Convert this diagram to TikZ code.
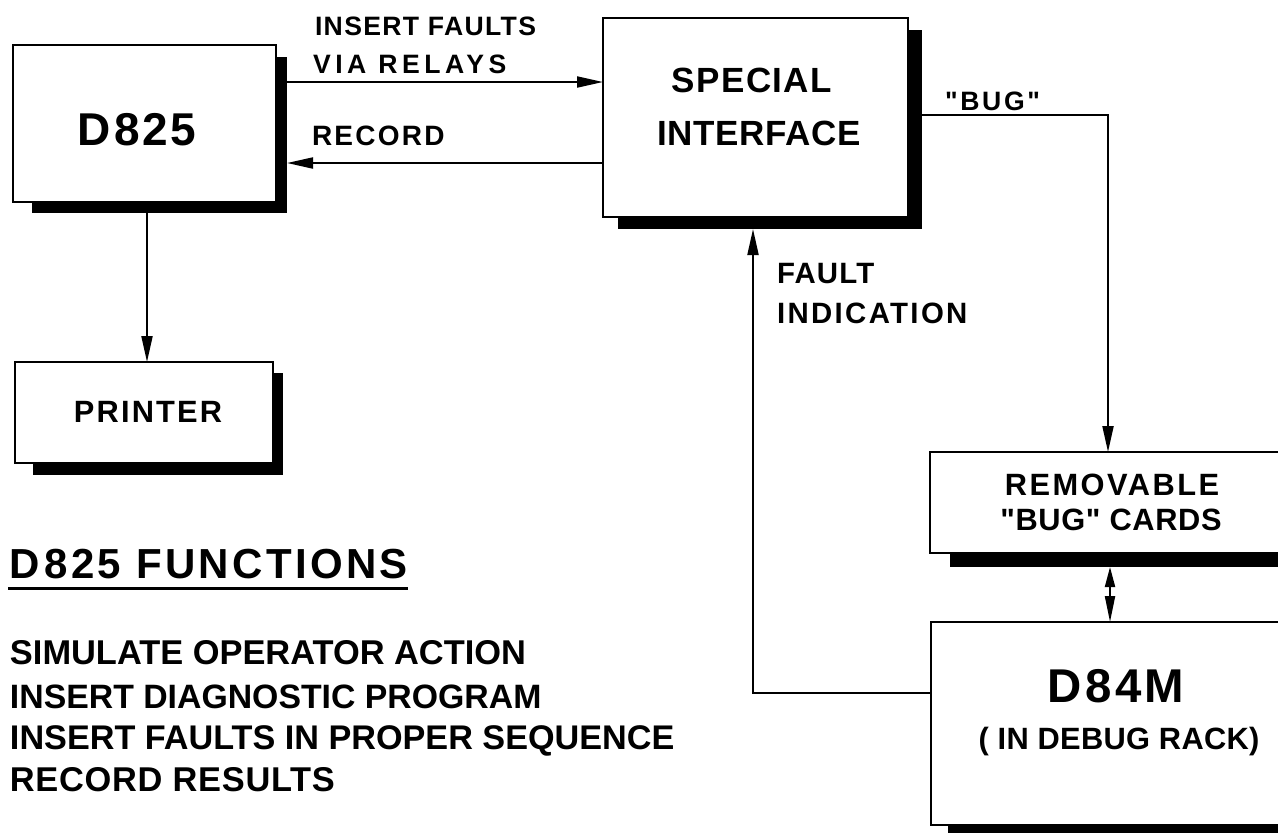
\documentclass[tikz,border=0pt]{standalone}
\usepackage{fontspec}
\setmainfont{Liberation Sans}[Ligatures=TeXOff]
\usetikzlibrary{arrows.meta,calc,fit}
\begin{document}
\begin{tikzpicture}[x=0.5pt,y=-0.5pt,
  box/.style={draw, line width=1pt, fill=white, inner sep=0, outer sep=0, rectangle},
  shade/.style={fill=black, draw=none, inner sep=0, outer sep=0, rectangle},
  conn/.style={line width=1pt, -{Triangle[length=13pt,width=5.5pt]}},
  dbl/.style={line width=1pt, {Triangle[length=10pt,width=5pt]}-{Triangle[length=13pt,width=5pt]}},
  t/.style 2 args={inner sep=0, outer sep=0, font=\fontsize{#1}{#1}\selectfont\bfseries\addfontfeatures{LetterSpace=#2}},
]
\useasboundingbox (0,0) rectangle (1278,832);
\fill[white] (0,0) rectangle (1278,832);
\clip (0,0) rectangle (1278,832);

% D825
\node[shade, fit={(32,57)(287,213)}] (d825s) {};
\node[box, fit={(13,45)(276,202)}] (d825) {};
\node[t={23}{5}, anchor=base] (d825t) at (137,145) {D\kern2pt 825};

% Printer
\node[shade, fit={(33,373)(283,475)}] (prs) {};
\node[box, fit={(15,362)(273,463)}] (pr) {};
\node[t={15.4}{7}, anchor=base] (prt) at (148,422) {PRINTER};

% Special interface
\node[shade, fit={(618,30)(922,229)}] (sis) {};
\node[box, fit={(603,18)(908,217)}] (si) {};
\node[t={17.5}{4}, anchor=base] (sit1) at (752,92) {SPECIAL};
\node[t={17.5}{2}, anchor=base] (sit2) at (759,145) {INTERFACE};

% Removable bug cards
\node[shade, fit={(950,464)(1300,567)}] (rbs) {};
\node[box, fit={(930,452)(1300,553)}] (rb) {};
\node[t={15.4}{8}, anchor=base] (rbt1) at (1112,495) {REMOVABLE};
\node[t={15.4}{2}, anchor=base] (rbt2) at (1111,530) {"BUG" CARDS};

% D84M
\node[shade, fit={(948,634)(1300,840)}] (dms) {};
\node[box, fit={(931,622)(1300,825)}] (dm) {};
\node[t={23.7}{7}, anchor=base] (dmt1) at (1116,702) {D84M};
\node[t={15.4}{1}, anchor=base] (dmt2) at (1119,749) {( IN DEBUG RACK)};

% connectors
\coordinate (yIns) at (0,82);
\coordinate (yRec) at (0,163);
\coordinate (xPr) at (147,0);
\coordinate (yBug) at (0,115);
\coordinate (xBug) at (1108,0);
\coordinate (xDbl) at (1110,0);
\coordinate (yFault) at (0,693);
\coordinate (xFault) at (753,0);
\draw[conn] (d825s.east |- yIns) -- (si.west |- yIns);
\draw[conn] (si.west |- yRec) -- (d825s.east |- yRec);
\draw[conn] (d825s.south -| xPr) -- (pr.north -| xPr);
\draw[conn] (sis.east |- yBug) -| (rb.north -| xBug);
\draw[dbl] (rbs.south -| xDbl) -- (dm.north -| xDbl);
\draw[conn] (dm.west |- yFault) -| (sis.south -| xFault);

% connector labels
\node[t={13.3}{5}, anchor=base west] (lblIns1) at (315,35) {INSERT FAULTS};
\node[t={13.3}{17}, anchor=base west] (lblIns2) at (313,73) {VIA RELAYS};
\node[t={14}{8}, anchor=base west] (lblRec) at (312,145) {RECORD};
\node[t={13.3}{10}, anchor=base west] (lblBug) at (945,110) {"BUG"};
\node[t={14.7}{4}, anchor=base west] (lblF1) at (777,283) {FAULT};
\node[t={14.7}{8}, anchor=base west] (lblF2) at (777,323) {INDICATION};

% functions list
\node[t={21}{8}, anchor=base west] (fTitle) at (10,578) {D\kern2pt 825 FUNCTIONS};
\draw[line width=1.5pt] ($(fTitle.base west)+(-2,10)$) -- ($(fTitle.base east)+(0,10)$);
\node[t={17.2}{0}, anchor=base west] (f1) at (10,664) {SIMULATE OPERATOR ACTION};
\node[t={16.9}{0}, anchor=base west] (f2) at (10,708) {INSERT DIAGNOSTIC PROGRAM};
\node[t={17.1}{0}, anchor=base west] (f3) at (10,749) {INSERT FAULTS IN PROPER SEQUENCE};
\node[t={17.2}{2}, anchor=base west] (f4) at (10,791) {RECORD RESULTS};
\end{tikzpicture}
\end{document}
